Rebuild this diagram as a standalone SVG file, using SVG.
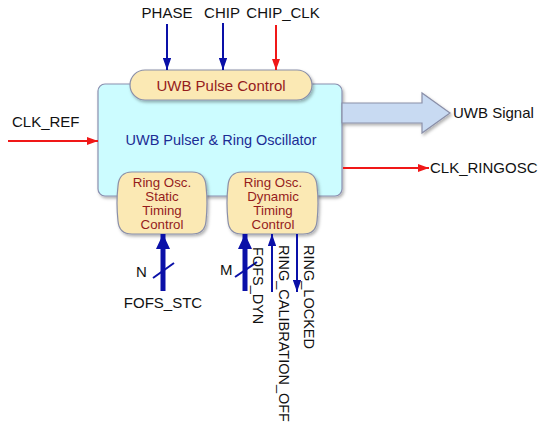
<svg xmlns="http://www.w3.org/2000/svg" width="543" height="427" viewBox="0 0 543 427">
<style>
.lbl{font-family:"Liberation Sans",Arial,sans-serif;font-size:15px;fill:#111}
.rot{font-family:"Liberation Sans",Arial,sans-serif;font-size:14.5px;fill:#111}
.ntx{font-family:"Liberation Sans",Arial,sans-serif;font-size:13.3px;fill:#951c1c;text-anchor:middle}
.ctx{font-family:"Liberation Sans",Arial,sans-serif;font-size:14.5px;fill:#1c2c94;text-anchor:middle}
.sub{fill:#fbe9b4;stroke:#8a8fa8;stroke-width:1.2}
.blue{stroke:#0a10a8;fill:none}
.red{stroke:#f01818;fill:none;stroke-width:2}
</style>
<defs>
<filter id="sh" x="-10%" y="-10%" width="130%" height="130%">
<feDropShadow dx="1.5" dy="2" stdDeviation="1.5" flood-color="#000" flood-opacity="0.3"/>
</filter>
<marker id="ab" viewBox="0 0 10 10" refX="10" refY="5" markerWidth="6" markerHeight="4.2" markerUnits="strokeWidth" orient="auto" preserveAspectRatio="none"><path d="M0,0L10,5L0,10z" fill="#0a10a8"/></marker>
<marker id="abig" viewBox="0 0 10 10" refX="10" refY="5" markerWidth="3" markerHeight="2.8" markerUnits="strokeWidth" orient="auto" preserveAspectRatio="none"><path d="M0,0L10,5L0,10z" fill="#0a10a8"/></marker>
<marker id="ar" viewBox="0 0 10 10" refX="10" refY="5" markerWidth="5.5" markerHeight="4" markerUnits="strokeWidth" orient="auto" preserveAspectRatio="none"><path d="M0,0L10,5L0,10z" fill="#f01818"/></marker>
</defs>
<g id="main">
<rect x="98" y="84" width="244" height="112" rx="7" fill="#ccfcff" stroke="#8a8fb0" stroke-width="1.2" filter="url(#sh)"/>
<text class="ctx" x="221" y="145">UWB Pulser &amp; Ring Oscillator</text>
</g>
<g id="pulse-control">
<rect class="sub" x="130" y="70" width="182" height="30" rx="15" filter="url(#sh)"/>
<text class="ntx" x="221" y="91" style="font-size:15px">UWB Pulse Control</text>
</g>
<g id="static-timing">
<path class="sub" filter="url(#sh)" d="M132,172H192Q205,172 206,186Q208,203 206,221Q205,234 192,234H132Q119,234 118,221Q116,203 118,186Q119,172 132,172Z"/>
<text class="ntx" x="162" y="187">Ring Osc.</text>
<text class="ntx" x="162" y="201">Static</text>
<text class="ntx" x="162" y="215">Timing</text>
<text class="ntx" x="162" y="229">Control</text>
</g>
<g id="dynamic-timing">
<path class="sub" filter="url(#sh)" d="M242,172H303Q316,172 317,186Q319,203 317,221Q316,234 303,234H242Q229,234 228,221Q226,203 228,186Q229,172 242,172Z"/>
<text class="ntx" x="273" y="187">Ring Osc.</text>
<text class="ntx" x="273" y="201">Dynamic</text>
<text class="ntx" x="273" y="215">Timing</text>
<text class="ntx" x="273" y="229">Control</text>
</g>
<g id="uwb-signal-arrow">
<path d="M342,103H422V93L450,113L422,133V123H342z" fill="#c8daf2" stroke="#8a8fa8" stroke-width="1.2" filter="url(#sh)"/>
</g>
<g id="connectors">
<line class="blue" x1="167" y1="24" x2="167" y2="70" stroke-width="2" marker-end="url(#ab)"/>
<line class="blue" x1="223" y1="23" x2="223" y2="70" stroke-width="2" marker-end="url(#ab)"/>
<line class="red" x1="276" y1="25" x2="276" y2="70" marker-end="url(#ar)"/>
<line class="red" x1="8" y1="141" x2="98" y2="141" marker-end="url(#ar)"/>
<line class="red" x1="343" y1="168" x2="429" y2="168" marker-end="url(#ar)"/>
<line class="blue" x1="163" y1="291" x2="163" y2="234" stroke-width="5" marker-end="url(#abig)"/>
<line class="blue" x1="153" y1="278" x2="174" y2="263" stroke-width="2"/>
<line class="blue" x1="245" y1="291" x2="245" y2="234" stroke-width="5" marker-end="url(#abig)"/>
<line class="blue" x1="235" y1="277" x2="257" y2="262" stroke-width="2"/>
<line class="blue" x1="272" y1="292" x2="272" y2="234" stroke-width="2" marker-end="url(#ab)"/>
<line class="blue" x1="297" y1="234" x2="297" y2="292" stroke-width="2" marker-end="url(#ab)"/>
</g>
<g id="labels">
<text class="lbl" x="167" y="18" text-anchor="middle">PHASE</text>
<text class="lbl" x="222" y="18" text-anchor="middle">CHIP</text>
<text class="lbl" x="283" y="18" text-anchor="middle">CHIP_CLK</text>
<text class="lbl" x="12" y="127">CLK_REF</text>
<text class="lbl" x="453" y="118">UWB Signal</text>
<text class="lbl" x="430" y="173">CLK_RINGOSC</text>
<text class="lbl" x="136" y="277">N</text>
<text class="lbl" x="220" y="275">M</text>
<text class="lbl" x="163" y="308" text-anchor="middle">FOFS_STC</text>
<text class="rot" transform="translate(253,247) rotate(90)">FOFS_DYN</text>
<text class="rot" transform="translate(279,245) rotate(90)">RING_CALIBRATION_OFF</text>
<text class="rot" transform="translate(304,245) rotate(90)">RING_LOCKED</text>
</g>
</svg>
